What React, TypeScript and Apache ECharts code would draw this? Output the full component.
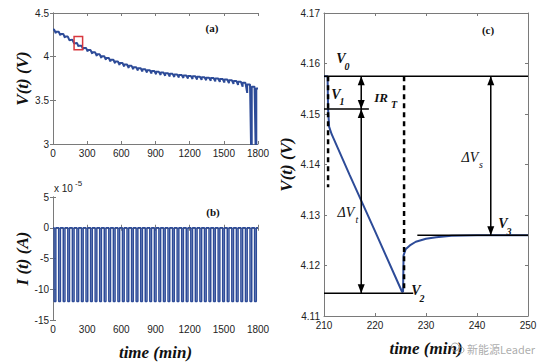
import React, { useEffect, useRef } from 'react';
import * as echarts from 'echarts';

// ---- Panel (a)/(b): pulse schedule (min) ----
const pulseStart = [10, 50, 90, 130, 170, 210, 250, 290, 330, 370, 410, 450, 490, 530, 570, 610, 650, 690, 730, 770, 810, 850, 890, 930, 970, 1010, 1050, 1090, 1130, 1170, 1210, 1250, 1290, 1330, 1370, 1410, 1450, 1490, 1530, 1570, 1610, 1650, 1690, 1730, 1770];
const pulseEnd = [25, 65, 105, 145, 185, 225, 265, 305, 345, 385, 425, 465, 505, 545, 585, 625, 665, 705, 745, 785, 825, 865, 905, 945, 985, 1025, 1065, 1105, 1145, 1185, 1225, 1265, 1305, 1345, 1385, 1425, 1465, 1505, 1545, 1585, 1625, 1665, 1705, 1745, 1785];
// relaxed voltage at each pulse start (last = after final pulse), V
const relaxV = [4.31, 4.285, 4.26, 4.23, 4.195, 4.1575, 4.126, 4.1, 4.075, 4.05, 4.027, 4.005, 3.985, 3.965, 3.945, 3.927, 3.91, 3.895, 3.88, 3.867, 3.855, 3.845, 3.835, 3.826, 3.818, 3.81, 3.803, 3.797, 3.791, 3.785, 3.78, 3.775, 3.77, 3.765, 3.76, 3.755, 3.75, 3.744, 3.738, 3.731, 3.722, 3.713, 3.7, 3.68, 3.655, 3.635];
// voltage at end of each discharge pulse, V
const endV = [4.268, 4.243, 4.217, 4.187, 4.152, 4.1145, 4.083, 4.058, 4.033, 4.008, 3.985, 3.964, 3.944, 3.924, 3.905, 3.887, 3.871, 3.856, 3.842, 3.829, 3.818, 3.808, 3.798, 3.79, 3.782, 3.774, 3.767, 3.761, 3.755, 3.749, 3.744, 3.739, 3.734, 3.729, 3.723, 3.717, 3.711, 3.704, 3.697, 3.688, 3.676, 3.655, 3.585, 2.5, 2.5];
// current levels (x 1e-5 A): rest, discharge
const currentLevels = [0, -12];
// zoom marker box in panel (a): [tMin, tMax, Vmin, Vmax]
const zoomBox = [185, 260, 4.08, 4.23];

// ---- Panel (c): zoom of one pulse ----
const cTime = [210, 210.7, 210.8, 211.0, 211.5, 215, 220, 225.3, 225.5, 225.6, 226, 227, 228, 230, 232, 235, 240, 245, 250];
const cVolt = [4.1575, 4.1575, 4.151, 4.1475, 4.146, 4.138, 4.1268, 4.1148, 4.1148, 4.122, 4.1232, 4.1241, 4.1247, 4.1253, 4.1256, 4.1259, 4.126, 4.126, 4.126];
// level lines: [tStart, tEnd, V]
const levelLines = [[210, 250, 4.1575], [210, 218.8, 4.151], [210, 227.5, 4.1145], [228.3, 250, 4.126]];
// dashed verticals: [t, Vtop, Vbottom]
const dashedLines = [[210.8, 4.1575, 4.1355], [225.7, 4.1575, 4.1148]];
// double arrows: [t, Vtop, Vbottom]
const arrows = [[217.3, 4.1575, 4.151], [217.3, 4.151, 4.1145], [242.7, 4.1575, 4.126]];

const BLUE = '#2D4B98';
const SANS = "'Liberation Sans', Arial, sans-serif";
const SERIF = "'Liberation Serif', 'Times New Roman', serif";

function buildVoltage() {
  const pts: number[][] = [[0, relaxV[0]]];
  pulseStart.forEach((s, i) => {
    pts.push([s, relaxV[i]]);
    pts.push([pulseEnd[i], endV[i]]);
    pts.push([pulseEnd[i], relaxV[i + 1]]);
  });
  pts.push([1800, relaxV[relaxV.length - 1]]);
  return pts;
}

function buildCurrent() {
  const pts: number[][] = [[0, currentLevels[0]]];
  pulseStart.forEach((s, i) => {
    pts.push([s, currentLevels[0]], [s, currentLevels[1]], [pulseEnd[i], currentLevels[1]], [pulseEnd[i], currentLevels[0]]);
  });
  pts.push([1800, currentLevels[0]]);
  return pts;
}

const axisLineStyle = { show: true, lineStyle: { color: '#7a7a7a', width: 1 } };
const tickStyle = { show: true, inside: true, length: 3, lineStyle: { color: '#7a7a7a' } };
const labelStyle = { color: '#222', fontSize: 10, fontFamily: SANS, showMinLabel: true, showMaxLabel: true };
const nameStyle = { fontFamily: SERIF, fontStyle: 'italic', fontWeight: 'bold', fontSize: 17, color: '#111' };
const plain = (v: number) => String(v);

function xAx(grid: number, min: number, max: number, interval: number, top: boolean, name?: string) {
  return {
    type: 'value', gridIndex: grid, min, max, interval,
    position: top ? 'top' : 'bottom',
    axisLine: axisLineStyle, axisTick: tickStyle, splitLine: { show: false },
    axisLabel: top ? { show: false } : { ...labelStyle, margin: 4, formatter: plain },
    name: name || '', nameLocation: 'middle', nameGap: 24, nameTextStyle: nameStyle,
  };
}
function yAx(grid: number, min: number, max: number, interval: number, right: boolean, name?: string, gap?: number, fmt?: any) {
  return {
    type: 'value', gridIndex: grid, min, max, interval,
    position: right ? 'right' : 'left',
    axisLine: axisLineStyle, axisTick: tickStyle, splitLine: { show: false },
    axisLabel: right ? { show: false } : { ...labelStyle, margin: 4, formatter: fmt || plain },
    name: name || '', nameLocation: 'middle', nameGap: gap || 20, nameRotate: 90, nameTextStyle: nameStyle,
  };
}

function txt(x: number, y: number, text: string, size: number, opts: any = {}) {
  return {
    type: 'text', x, y, silent: true,
    style: {
      text, fontSize: size, fontFamily: SERIF, fontStyle: opts.italic === false ? 'normal' : 'italic',
      fontWeight: opts.bold === false ? 'normal' : 'bold', fill: opts.fill || '#111',
      align: 'center', verticalAlign: 'middle',
    },
  };
}

export default function App() {
  const ref = useRef<HTMLDivElement>(null);
  useEffect(() => {
    if (!ref.current) return;
    const chart = echarts.init(ref.current, undefined, { renderer: 'svg' });
    const series: any[] = [
      { type: 'line', xAxisIndex: 0, yAxisIndex: 0, data: buildVoltage(), showSymbol: false, symbol: 'none', lineStyle: { color: BLUE, width: 2 }, clip: true },
      { type: 'line', xAxisIndex: 2, yAxisIndex: 2, data: buildCurrent(), showSymbol: false, symbol: 'none', lineStyle: { color: BLUE, width: 1.5 }, clip: true },
      { type: 'line', xAxisIndex: 4, yAxisIndex: 4, data: cTime.map((t, i) => [t, cVolt[i]]), showSymbol: false, symbol: 'none', lineStyle: { color: BLUE, width: 2 }, z: 3 },
    ];
    levelLines.forEach((l) => series.push({ type: 'line', xAxisIndex: 4, yAxisIndex: 4, data: [[l[0], l[2]], [l[1], l[2]]], symbol: 'none', lineStyle: { color: '#000', width: 1.5 }, z: 4 }));
    dashedLines.forEach((l) => series.push({ type: 'line', xAxisIndex: 4, yAxisIndex: 4, data: [[l[0], l[1]], [l[0], l[2]]], symbol: 'none', lineStyle: { color: '#000', width: 2.5, type: [5, 4] }, z: 4 }));
    arrows.forEach((a) => series.push({ type: 'line', xAxisIndex: 4, yAxisIndex: 4, data: [[a[0], a[1]], [a[0], a[2]]], symbol: 'none', lineStyle: { color: '#000', width: 1.5 }, z: 4 }));

    const option: any = {
      animation: false,
      backgroundColor: '#fff',
      grid: [
        { left: 53, top: 13, width: 205, height: 131, show: false },
        { left: 53, top: 197, width: 205, height: 130, show: false },
        { left: 324, top: 13, width: 204, height: 314, show: false },
      ],
      xAxis: [
        xAx(0, 0, 1800, 300, false), xAx(0, 0, 1800, 300, true),
        xAx(1, 0, 1800, 300, false, 'time (min)'), xAx(1, 0, 1800, 300, true),
        xAx(2, 210, 250, 10, false, 'time (min)'), xAx(2, 210, 250, 10, true),
      ],
      yAxis: [
        yAx(0, 3, 4.5, 0.5, false, 'V(t) (V)', 21), yAx(0, 3, 4.5, 0.5, true),
        yAx(1, -15, 5, 5, false, 'I (t) (A)', 21), yAx(1, -15, 5, 5, true),
        yAx(2, 4.11, 4.17, 0.01, false, 'V(t) (V)', 29, (v: number) => v.toFixed(2)), yAx(2, 4.11, 4.17, 0.01, true),
      ],
      series,
    };
    chart.setOption(option);

    const px = (x: number, y: number) => chart.convertToPixel({ seriesIndex: 2 }, [x, y]) as number[];
    const heads: any[] = [];
    arrows.forEach((a) => {
      const t = px(a[0], a[1]);
      const b = px(a[0], a[2]);
      heads.push({ type: 'polygon', silent: true, shape: { points: [[t[0], t[1]], [t[0] - 3.5, t[1] + 9], [t[0] + 3.5, t[1] + 9]] }, style: { fill: '#000' }, z: 10 });
      heads.push({ type: 'polygon', silent: true, shape: { points: [[b[0], b[1]], [b[0] - 3.5, b[1] - 9], [b[0] + 3.5, b[1] - 9]] }, style: { fill: '#000' }, z: 10 });
    });
    const pa = (x: number, y: number) => chart.convertToPixel({ seriesIndex: 0 }, [x, y]) as number[];
    const b0 = pa(zoomBox[0], zoomBox[3]);
    const b1 = pa(zoomBox[1], zoomBox[2]);
    heads.push({ type: 'rect', silent: true, z: 10, shape: { x: b0[0], y: b0[1], width: b1[0] - b0[0], height: b1[1] - b0[1] }, style: { fill: 'none', stroke: '#D8383F', lineWidth: 1.5 } });

    const labels: any[] = [
      txt(212, 28, '(a)', 11, { italic: false }),
      txt(213, 212, '(b)', 11, { italic: false }),
      txt(488, 30, '(c)', 11, { italic: false }),
      { type: 'text', x: 54, y: 188, silent: true, style: { text: 'x 10', fontSize: 10, fontFamily: SANS, fill: '#222', align: 'left', verticalAlign: 'middle' } },
      { type: 'text', x: 75, y: 183, silent: true, style: { text: '-5', fontSize: 8, fontFamily: SANS, fill: '#222', align: 'left', verticalAlign: 'middle' } },
      txt(341, 58, 'V', 14), txt(347, 66, '0', 10),
      txt(336, 94, 'V', 14), txt(342, 101, '1', 10),
      txt(381, 97, 'IR', 13), txt(394, 104, 'T', 10),
      txt(470, 157, 'ΔV', 14, { bold: false }), txt(481, 164, 's', 10, { bold: false }),
      txt(346, 212, 'ΔV', 14, { bold: false }), txt(357, 219, 't', 10, { bold: false }),
      txt(416, 290, 'V', 14), txt(422, 298, '2', 10),
      txt(503, 223, 'V', 14), txt(509, 231, '3', 10),
      { type: 'circle', silent: true, shape: { cx: 455, cy: 347, r: 4 }, style: { fill: 'none', stroke: 'rgba(150,150,150,0.8)', lineWidth: 1 }, z: 20 },
      { type: 'circle', silent: true, shape: { cx: 461, cy: 350, r: 3 }, style: { fill: 'none', stroke: 'rgba(150,150,150,0.8)', lineWidth: 1 }, z: 20 },
      { type: 'text', x: 467, y: 349, silent: true, z: 20, style: { text: '新能源Leader', fontSize: 11, fontFamily: "'Noto Sans CJK SC', sans-serif", fill: 'rgba(150,150,150,0.8)', align: 'left', verticalAlign: 'middle' } },
    ];
    chart.setOption({ graphic: [...heads, ...labels] });
    return () => chart.dispose();
  }, []);
  return <div ref={ref} style={{ position: 'fixed', left: 0, top: 0, width: 550, height: 362, background: '#fff' }} />;
}
